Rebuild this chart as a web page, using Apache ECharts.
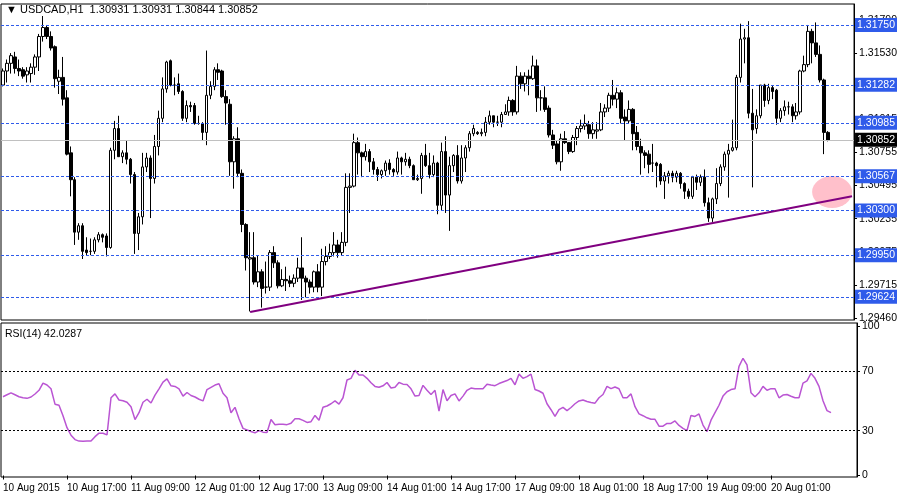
<!DOCTYPE html>
<html>
<head>
<meta charset="utf-8">
<script src="https://cdn.jsdelivr.net/npm/echarts@6/dist/echarts.min.js"></script>
<style>html,body{margin:0;padding:0;background:#fff}#chart{width:900px;height:500px}</style>
</head>
<body>
<div id="chart"></div>
<script>
// USDCAD H1 candles, 10-20 Aug 2015
var opens = [1.3128,1.3139,1.3145,1.3150,1.3141,1.3140,1.3136,1.3137,1.3142,1.3150,
1.3166,1.3173,1.3166,1.3158,1.3131,1.3134,1.3118,1.3075,1.3054,1.3013,
1.3018,1.2999,1.2998,1.2998,1.3007,1.3011,1.3010,1.3001,1.3077,1.3094,
1.3072,1.3075,1.3070,1.3058,1.3012,1.3025,1.3064,1.3071,1.3055,1.3080,
1.3102,1.3125,1.3147,1.3128,1.3129,1.3123,1.3102,1.3112,1.3112,1.3098,
1.3098,1.3091,1.3120,1.3127,1.3140,1.3139,1.3119,1.3113,1.3068,1.3086,
1.3059,1.3019,1.2992,1.2993,1.2974,1.2982,1.2970,1.2970,1.2997,1.2989,
1.2971,1.2976,1.2975,1.2973,1.2977,1.2985,1.2977,1.2974,1.2970,1.2982,
1.2970,1.2990,1.2994,1.2997,1.3003,1.2997,1.3005,1.3048,1.3049,1.3083,
1.3075,1.3072,1.3076,1.3068,1.3062,1.3058,1.3061,1.3067,1.3062,1.3060,
1.3071,1.3068,1.3070,1.3065,1.3054,1.3055,1.3073,1.3065,1.3058,1.3067,
1.3034,1.3076,1.3042,1.3065,1.3073,1.3053,1.3071,1.3079,1.3090,1.3091,
1.3090,1.3091,1.3099,1.3104,1.3099,1.3099,1.3105,1.3107,1.3116,1.3107,
1.3135,1.3129,1.3135,1.3133,1.3143,1.3118,1.3118,1.3110,1.3089,1.3082,
1.3068,1.3086,1.3083,1.3076,1.3087,1.3094,1.3096,1.3097,1.3090,1.3092,
1.3093,1.3107,1.3110,1.3120,1.3117,1.3122,1.3103,1.3100,1.3109,1.3091,
1.3080,1.3075,1.3074,1.3067,1.3067,1.3066,1.3053,1.3057,1.3059,1.3056,
1.3059,1.3051,1.3045,1.3041,1.3056,1.3052,1.3056,1.3036,1.3024,1.3039,
1.3051,1.3064,1.3074,1.3077,1.3079,1.3134,1.3164,1.3165,1.3106,1.3094,
1.3104,1.3128,1.3116,1.3126,1.3124,1.3102,1.3108,1.3111,1.3111,1.3104,
1.3107,1.3139,1.3144,1.3170,1.3161,1.3152,1.3132,1.3091];
var closes = [1.3139,1.3145,1.3151,1.3141,1.3139,1.3135,1.3139,1.3142,1.3150,1.3166,
1.3173,1.3166,1.3157,1.3133,1.3134,1.3117,1.3074,1.3054,1.3013,1.3018,
1.2998,1.2997,1.2998,1.3007,1.3011,1.3009,1.3001,1.3077,1.3094,1.3072,
1.3075,1.3070,1.3058,1.3012,1.3025,1.3064,1.3071,1.3055,1.3080,1.3102,
1.3125,1.3146,1.3128,1.3128,1.3123,1.3102,1.3112,1.3111,1.3098,1.3098,
1.3091,1.3120,1.3127,1.3140,1.3138,1.3119,1.3114,1.3068,1.3086,1.3059,
1.3019,1.2993,1.2993,1.2974,1.2982,1.2969,1.2970,1.2997,1.2989,1.2971,
1.2976,1.2975,1.2973,1.2977,1.2985,1.2977,1.2974,1.2970,1.2982,1.2970,
1.2990,1.2994,1.2997,1.3003,1.2997,1.3005,1.3048,1.3049,1.3083,1.3075,
1.3072,1.3076,1.3068,1.3062,1.3058,1.3061,1.3067,1.3062,1.3060,1.3071,
1.3068,1.3070,1.3065,1.3054,1.3055,1.3073,1.3065,1.3058,1.3067,1.3034,
1.3076,1.3042,1.3065,1.3073,1.3053,1.3071,1.3079,1.3090,1.3094,1.3090,
1.3091,1.3099,1.3104,1.3099,1.3099,1.3105,1.3107,1.3116,1.3107,1.3135,
1.3129,1.3135,1.3133,1.3143,1.3118,1.3118,1.3109,1.3089,1.3081,1.3068,
1.3086,1.3083,1.3076,1.3087,1.3094,1.3096,1.3098,1.3090,1.3093,1.3093,
1.3107,1.3110,1.3120,1.3117,1.3122,1.3102,1.3100,1.3109,1.3090,1.3080,
1.3075,1.3073,1.3066,1.3067,1.3065,1.3053,1.3057,1.3059,1.3056,1.3059,
1.3051,1.3045,1.3041,1.3056,1.3052,1.3056,1.3036,1.3024,1.3039,1.3051,
1.3064,1.3074,1.3077,1.3079,1.3134,1.3164,1.3165,1.3106,1.3093,1.3104,
1.3128,1.3116,1.3126,1.3123,1.3102,1.3108,1.3111,1.3111,1.3104,1.3107,
1.3139,1.3144,1.3170,1.3161,1.3152,1.3132,1.3091,1.3085];
var lows = [1.3127,1.3130,1.3137,1.3137,1.3135,1.3133,1.3130,1.3130,1.3136,1.3139,
1.3162,1.3164,1.3155,1.3126,1.3121,1.3112,1.3073,1.3041,1.3003,1.3007,
1.2992,1.2995,1.2995,1.2996,1.3005,1.3005,1.2994,1.3000,1.3070,1.3072,
1.3067,1.3066,1.3051,1.2996,1.2999,1.3019,1.3060,1.3024,1.3051,1.3073,
1.3099,1.3122,1.3127,1.3120,1.3121,1.3100,1.3099,1.3107,1.3097,1.3097,
1.3085,1.3081,1.3117,1.3124,1.3132,1.3118,1.3097,1.3057,1.3047,1.3056,
1.3013,1.2983,1.2951,1.2972,1.2970,1.2954,1.2965,1.2967,1.2985,1.2969,
1.2970,1.2967,1.2970,1.2970,1.2974,1.2960,1.2962,1.2965,1.2966,1.2966,
1.2963,1.2987,1.2992,1.2994,1.2993,1.2995,1.3002,1.3028,1.3048,1.3058,
1.3056,1.3069,1.3060,1.3058,1.3053,1.3055,1.3057,1.3058,1.3057,1.3058,
1.3058,1.3065,1.3063,1.3054,1.3053,1.3043,1.3064,1.3055,1.3056,1.3027,
1.3030,1.3028,1.3014,1.3060,1.3051,1.3051,1.3060,1.3076,1.3088,1.3089,
1.3088,1.3088,1.3097,1.3095,1.3096,1.3095,1.3105,1.3104,1.3104,1.3105,
1.3125,1.3123,1.3120,1.3132,1.3107,1.3108,1.3107,1.3087,1.3078,1.3066,
1.3061,1.3082,1.3074,1.3075,1.3081,1.3091,1.3093,1.3086,1.3086,1.3086,
1.3092,1.3103,1.3107,1.3112,1.3110,1.3098,1.3085,1.3098,1.3077,1.3077,
1.3058,1.3063,1.3059,1.3060,1.3048,1.3050,1.3039,1.3051,1.3052,1.3052,
1.3047,1.3039,1.3039,1.3039,1.3046,1.3049,1.3033,1.3021,1.3021,1.3035,
1.3049,1.3061,1.3040,1.3076,1.3077,1.3130,1.3145,1.3102,1.3048,1.3090,
1.3102,1.3111,1.3113,1.3117,1.3097,1.3099,1.3104,1.3105,1.3099,1.3101,
1.3105,1.3138,1.3142,1.3145,1.3150,1.3130,1.3074,1.3084];
var highs = [1.3141,1.3148,1.3153,1.3154,1.3148,1.3142,1.3142,1.3145,1.3152,1.3168,
1.3182,1.3175,1.3170,1.3159,1.3140,1.3150,1.3124,1.3080,1.3056,1.3020,
1.3020,1.3009,1.3008,1.3009,1.3013,1.3012,1.3012,1.3079,1.3100,1.3104,
1.3077,1.3085,1.3071,1.3060,1.3028,1.3075,1.3075,1.3073,1.3089,1.3108,
1.3134,1.3147,1.3148,1.3134,1.3137,1.3124,1.3116,1.3115,1.3114,1.3104,
1.3099,1.3155,1.3131,1.3142,1.3145,1.3140,1.3124,1.3117,1.3088,1.3095,
1.3062,1.3020,1.3013,1.3013,1.2995,1.2984,1.2990,1.2999,1.3002,1.2991,
1.2984,1.2986,1.2979,1.2980,1.2993,1.3009,1.2979,1.2976,1.2983,1.2988,
1.3000,1.3002,1.3004,1.3013,1.3007,1.3013,1.3059,1.3059,1.3090,1.3087,
1.3076,1.3082,1.3078,1.3071,1.3064,1.3062,1.3069,1.3070,1.3063,1.3076,
1.3072,1.3075,1.3072,1.3066,1.3058,1.3075,1.3082,1.3075,1.3073,1.3068,
1.3083,1.3088,1.3072,1.3074,1.3081,1.3081,1.3081,1.3092,1.3097,1.3092,
1.3094,1.3103,1.3108,1.3104,1.3104,1.3107,1.3113,1.3119,1.3117,1.3143,
1.3138,1.3138,1.3140,1.3151,1.3148,1.3124,1.3127,1.3112,1.3093,1.3085,
1.3090,1.3092,1.3082,1.3089,1.3096,1.3101,1.3105,1.3100,1.3099,1.3099,
1.3114,1.3113,1.3122,1.3132,1.3126,1.3124,1.3109,1.3116,1.3110,1.3096,
1.3086,1.3077,1.3077,1.3082,1.3068,1.3067,1.3060,1.3061,1.3061,1.3061,
1.3060,1.3052,1.3047,1.3057,1.3058,1.3058,1.3062,1.3040,1.3040,1.3063,
1.3066,1.3076,1.3082,1.3101,1.3136,1.3176,1.3172,1.3178,1.3125,1.3109,
1.3128,1.3129,1.3129,1.3128,1.3125,1.3110,1.3116,1.3115,1.3113,1.3114,
1.3140,1.3151,1.3175,1.3172,1.3177,1.3159,1.3133,1.3092];
var rsi = [52.7,54,55.3,54,52.7,52,51.6,52.5,54.5,57,
61.8,60.5,58,47.7,47,40,32,27,24,23,
22.9,23,23,26,28.3,28.3,27.2,52,54.6,50.5,
50,49,46,37.4,42,49,51,48.5,53.8,58,
62.5,64.6,60,59.6,58,53.1,55.5,53.5,52.5,51,
49.9,57.5,59,60.5,61.4,55,52,42,45.6,38,
31.5,30.5,29.4,28.5,30,29,28.7,37.4,34,34.3,
34.3,34,35,38,38,36.9,35.5,36,40.2,37,
45.6,46.5,48,49.9,47.7,52,63.9,65,70.4,67.2,
67.2,65,62,59.6,59,60,62.2,58.5,59,62.2,
61.1,60.9,58,53.1,53.5,60.3,57,54.2,57,43,
57.5,50,53.5,54.6,49.9,53.1,57,58.5,58.1,58.1,
58.1,61.1,60.5,60.1,61.5,62.5,63.5,65,60.7,67.8,
65,66.1,67.8,57.5,56.5,55,48,44,39.5,44,
45.6,43.4,45.5,48,49.9,50.5,49.5,48.8,48.4,52,
54.2,59.6,58.1,59.2,58,52,52,54.6,46,41.2,
40,38.6,37.6,37.6,33,33,34.8,34.8,36.5,33.5,
31.5,30,40.2,39.5,41.2,33.7,29.4,37,42,47,
53.1,56,57.5,58,73,78.4,74,55.3,52.7,55.3,
59.6,57,58.1,58,52,53.8,54.2,53,52,52,
61.8,63.3,68.3,65,59.6,50,43.4,42.0];

var timeLabels = ['10 Aug 2015', '10 Aug 17:00', '11 Aug 09:00', '12 Aug 01:00', '12 Aug 17:00',
    '13 Aug 09:00', '14 Aug 01:00', '14 Aug 17:00', '17 Aug 09:00', '18 Aug 01:00',
    '18 Aug 17:00', '19 Aug 09:00', '20 Aug 01:00'];
var priceTicks = [1.29460, 1.29715, 1.29975, 1.30235, 1.30495, 1.30755, 1.31015, 1.31275, 1.31530, 1.31790];
var levels = [1.31750, 1.31282, 1.30985, 1.30567, 1.30300, 1.29950, 1.29624];
var lastPrice = 1.30852;
var trendStart = [62, 1.29506];
var trendEnd = [213, 1.30410];
var zone = [208, 1.30444];
var rsiLevels = [30, 70];

// 214 slots, 16 bars between time labels
var slots = 214;
var cats = [];
for (var i = 0; i < slots; i++) cats.push('');
for (var j = 0; j < timeLabels.length; j++) cats[j * 16] = timeLabels[j];

var candles = [];
for (var k = 0; k < opens.length; k++) {
    candles.push([opens[k], closes[k], lows[k], highs[k]]);
}

var font = 'Liberation Sans';
var blue = '#2F5BEA';
var dom = document.getElementById('chart');
var myChart = echarts.init(dom, null, {renderer: 'canvas'});

var levelLines = levels.map(function (v) {
    return {yAxis: v, lineStyle: {color: blue, type: [3, 2], width: 1},
        label: {backgroundColor: blue, color: '#fff'}};
});
var priceLine = [{yAxis: lastPrice, lineStyle: {color: '#C0C0C0', type: 'solid', width: 1},
    label: {backgroundColor: '#000', color: '#fff'}}];

var showLabel = function (idx, val) { return val !== ''; };
var levelLabel = {position: 'end', fontSize: 10.5, fontFamily: font, padding: [2, 2, 1, 2], distance: 1,
    formatter: function (p) { return Number(p.value).toFixed(5); }};

var option = {
    animation: false,
    backgroundColor: '#fff',
    textStyle: {fontFamily: font},
    grid: [
        {left: 1, right: 43, top: 4, height: 316, show: true, borderColor: '#000', borderWidth: 1},
        {left: 1, right: 43, top: 323, height: 154, show: true, borderColor: '#000', borderWidth: 1}
    ],
    xAxis: [
        {type: 'category', gridIndex: 0, data: cats, boundaryGap: true,
            axisLine: {show: false}, axisTick: {show: false}, axisLabel: {show: false}},
        {type: 'category', gridIndex: 1, data: cats, boundaryGap: true,
            axisLine: {show: false},
            axisTick: {show: true, alignWithLabel: true, length: 4, lineStyle: {color: '#000'}, interval: showLabel},
            axisLabel: {show: true, align: 'left', margin: 6, color: '#000', fontSize: 10, fontFamily: font,
                hideOverlap: false, interval: showLabel}}
    ],
    yAxis: [
        {type: 'value', gridIndex: 0, position: 'right', min: 1.29443, max: 1.31914,
            splitLine: {show: false},
            axisLine: {show: true, lineStyle: {color: '#000'}},
            axisTick: {show: true, length: 3, customValues: priceTicks, lineStyle: {color: '#000'}},
            axisLabel: {show: true, customValues: priceTicks, color: '#000', fontSize: 10.5, margin: 5,
                formatter: function (v) { return v.toFixed(5); }}},
        {type: 'value', gridIndex: 1, position: 'right', min: -1, max: 102,
            splitLine: {show: false},
            axisLine: {show: true, lineStyle: {color: '#000'}},
            axisTick: {show: true, length: 3, customValues: [0, 30, 70, 100], lineStyle: {color: '#000'}},
            axisLabel: {show: true, customValues: [0, 30, 70, 100], color: '#000', fontSize: 10.5, margin: 5}}
    ],
    series: [
        {
            type: 'scatter', xAxisIndex: 0, yAxisIndex: 0, z: 1,
            data: [zone], symbol: 'circle', symbolSize: [40, 32],
            itemStyle: {color: '#FFC0CB', opacity: 1}, silent: true
        },
        {
            type: 'line', xAxisIndex: 0, yAxisIndex: 0, z: 2, data: [], color: blue,
            itemStyle: {color: blue}, lineStyle: {color: blue},
            markLine: {
                silent: true, symbol: ['none', 'none'], precision: 5,
                lineStyle: {color: blue, type: [3, 2], width: 1, opacity: 1},
                label: levelLabel,
                data: levelLines
            }
        },
        {
            type: 'line', xAxisIndex: 0, yAxisIndex: 0, z: 2, data: [], color: '#C0C0C0',
            markLine: {
                silent: true, symbol: ['none', 'none'], precision: 5,
                lineStyle: {color: '#C0C0C0', type: 'solid', width: 1, opacity: 1},
                label: levelLabel,
                data: priceLine
            }
        },
        {
            type: 'candlestick', xAxisIndex: 0, yAxisIndex: 0, z: 3,
            data: candles, barWidth: 3,
            itemStyle: {color: '#fff', color0: '#000', borderColor: '#000', borderColor0: '#000', borderWidth: 1}
        },
        {
            type: 'line', xAxisIndex: 0, yAxisIndex: 0, z: 4, data: [], color: '#800080',
            markLine: {
                silent: true, symbol: ['none', 'none'], label: {show: false}, precision: 5,
                lineStyle: {color: '#800080', width: 2, type: 'solid'},
                data: [[{coord: trendStart}, {coord: trendEnd}]]
            }
        },
        {
            type: 'line', xAxisIndex: 1, yAxisIndex: 1, data: rsi, showSymbol: false,
            lineStyle: {color: '#BA55D3', width: 1.5}, itemStyle: {color: '#BA55D3'},
            markLine: {
                silent: true, symbol: ['none', 'none'], label: {show: false},
                lineStyle: {color: '#000', type: [2, 2], width: 1},
                data: rsiLevels.map(function (v) { return {yAxis: v}; })
            }
        }
    ],
    graphic: [
        {type: 'text', left: 6, top: 4, style: {text: '▼ USDCAD,H1  1.30931 1.30931 1.30844 1.30852', fill: '#000', fontSize: 11, fontFamily: font}},
        {type: 'text', left: 5, top: 329, style: {text: 'RSI(14) 42.0287', fill: '#000', fontSize: 10.5, fontFamily: font}}
    ]
};
myChart.setOption(option);
</script>
</body>
</html>
